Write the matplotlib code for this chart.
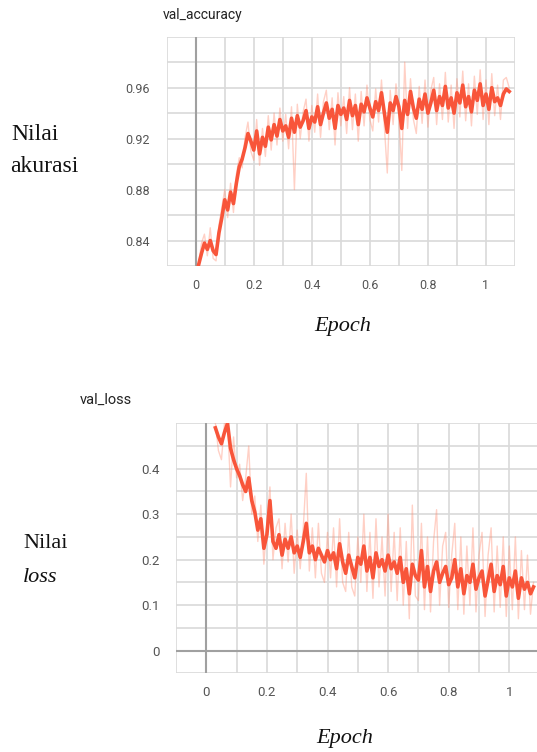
import numpy as np
import matplotlib
matplotlib.use("Agg")
import matplotlib.pyplot as plt
from matplotlib.ticker import MultipleLocator

# ---------------- data ----------------
acc_epoch = np.round(np.arange(1, 109) * 0.01, 2)
acc_smooth = [
    0.821, 0.830, 0.838, 0.833, 0.840, 0.832, 0.829, 0.846, 0.858, 0.872,
    0.864, 0.878, 0.869, 0.885, 0.898, 0.904, 0.913, 0.924, 0.918, 0.911,
    0.926, 0.908, 0.921, 0.914, 0.929, 0.919, 0.931, 0.922, 0.935, 0.926,
    0.930, 0.921, 0.936, 0.925, 0.938, 0.929, 0.934, 0.942, 0.928, 0.937,
    0.933, 0.945, 0.931, 0.940, 0.948, 0.936, 0.943, 0.928, 0.946, 0.939,
    0.944, 0.935, 0.950, 0.938, 0.946, 0.931, 0.947, 0.941, 0.952, 0.944,
    0.937, 0.949, 0.942, 0.956, 0.940, 0.925, 0.948, 0.942, 0.953, 0.945,
    0.928, 0.950, 0.939, 0.957, 0.944, 0.936, 0.951, 0.943, 0.955, 0.940,
    0.948, 0.958, 0.942, 0.953, 0.946, 0.961, 0.944, 0.952, 0.940, 0.956,
    0.948, 0.962, 0.945, 0.953, 0.941, 0.958, 0.950, 0.963, 0.946, 0.955,
    0.943, 0.960, 0.949, 0.952, 0.946, 0.955, 0.959, 0.957,
]
acc_raw = [
    0.822, 0.838, 0.845, 0.828, 0.850, 0.826, 0.824, 0.852, 0.866, 0.880,
    0.858, 0.885, 0.862, 0.892, 0.905, 0.897, 0.921, 0.933, 0.910, 0.903,
    0.935, 0.899, 0.928, 0.906, 0.938, 0.911, 0.940, 0.915, 0.944, 0.918,
    0.939, 0.912, 0.945, 0.880, 0.947, 0.920, 0.941, 0.951, 0.918, 0.946,
    0.925, 0.955, 0.921, 0.949, 0.958, 0.927, 0.952, 0.915, 0.956, 0.930,
    0.953, 0.924, 0.960, 0.927, 0.955, 0.918, 0.957, 0.930, 0.962, 0.935,
    0.926, 0.959, 0.933, 0.966, 0.929, 0.893, 0.958, 0.931, 0.963, 0.936,
    0.895, 0.980, 0.928, 0.967, 0.935, 0.924, 0.961, 0.932, 0.966, 0.929,
    0.958, 0.968, 0.931, 0.963, 0.935, 0.972, 0.933, 0.962, 0.928, 0.967,
    0.937, 0.973, 0.934, 0.963, 0.930, 0.969, 0.939, 0.974, 0.935, 0.966,
    0.931, 0.971, 0.938, 0.962, 0.935, 0.966, 0.968, 0.960,
]

loss_epoch = np.round(np.arange(3, 109) * 0.01, 2)
loss_smooth = [
    0.490, 0.470, 0.455, 0.480, 0.500, 0.445, 0.420, 0.400,
    0.385, 0.365, 0.350, 0.380, 0.330, 0.305, 0.265, 0.290, 0.225, 0.255,
    0.330, 0.240, 0.225, 0.255, 0.210, 0.245, 0.225, 0.250, 0.215, 0.230,
    0.205, 0.240, 0.280, 0.215, 0.230, 0.200, 0.225, 0.210, 0.195, 0.220,
    0.200, 0.215, 0.180, 0.235, 0.195, 0.170, 0.210, 0.185, 0.160, 0.205,
    0.190, 0.230, 0.175, 0.205, 0.160, 0.215, 0.185, 0.200, 0.175, 0.210,
    0.180, 0.195, 0.170, 0.205, 0.150, 0.180, 0.125, 0.190, 0.165, 0.155,
    0.220, 0.140, 0.185, 0.130, 0.175, 0.195, 0.150, 0.170, 0.185, 0.145,
    0.160, 0.200, 0.140, 0.180, 0.125, 0.165, 0.150, 0.190, 0.135, 0.160,
    0.175, 0.120, 0.155, 0.190, 0.130, 0.165, 0.145, 0.185, 0.120, 0.160,
    0.140, 0.175, 0.115, 0.160, 0.135, 0.150, 0.125, 0.140,
]
loss_raw = [
    0.500, 0.440, 0.420, 0.500, 0.505, 0.360, 0.470, 0.380,
    0.410, 0.330, 0.380, 0.450, 0.300, 0.340, 0.240, 0.320, 0.190, 0.280,
    0.360, 0.200, 0.270, 0.290, 0.180, 0.280, 0.195, 0.300, 0.170, 0.265,
    0.180, 0.270, 0.390, 0.175, 0.270, 0.160, 0.280, 0.170, 0.150, 0.260,
    0.160, 0.270, 0.140, 0.290, 0.150, 0.130, 0.260, 0.140, 0.120, 0.250,
    0.150, 0.300, 0.130, 0.260, 0.115, 0.290, 0.140, 0.250, 0.120, 0.300,
    0.130, 0.260, 0.110, 0.270, 0.100, 0.240, 0.070, 0.320, 0.120, 0.110,
    0.280, 0.090, 0.250, 0.085, 0.240, 0.310, 0.100, 0.230, 0.260, 0.095,
    0.210, 0.280, 0.090, 0.250, 0.080, 0.230, 0.100, 0.270, 0.085, 0.210,
    0.260, 0.075, 0.210, 0.270, 0.085, 0.230, 0.095, 0.250, 0.075, 0.230,
    0.090, 0.250, 0.070, 0.220, 0.090, 0.210, 0.080, 0.150,
]

x_ticks = [0, 0.2, 0.4, 0.6, 0.8, 1]
x_tick_labels = ["0", "0.2", "0.4", "0.6", "0.8", "1"]
acc_yticks = [0.84, 0.88, 0.92, 0.96]
acc_ytick_labels = ["0.84", "0.88", "0.92", "0.96"]
loss_yticks = [0, 0.1, 0.2, 0.3, 0.4]
loss_ytick_labels = ["0", "0.1", "0.2", "0.3", "0.4"]

# ---------------- style ----------------
LINE = "#f8553a"
RAW = "#ff8a70"
GRID = "#d9d9d9"
ZERO = "#a0a0a0"
TICKC = "#555555"
W, H = 537, 752

fig = plt.figure(figsize=(W / 100, H / 100), dpi=100)


def px_axes(left, top, right, bottom):
    return fig.add_axes([left / W, 1 - bottom / H, (right - left) / W, (bottom - top) / H])


def style(ax, xlim, ylim, xminor, yminor, xt, xtl, yt, ytl, fs):
    ax.set_xlim(*xlim)
    ax.set_ylim(*ylim)
    for s in ax.spines.values():
        s.set_visible(False)
    ax.xaxis.set_minor_locator(MultipleLocator(xminor))
    ax.yaxis.set_minor_locator(MultipleLocator(yminor))
    ax.set_xticks(xt)
    ax.set_xticklabels(xtl)
    ax.set_yticks(yt)
    ax.set_yticklabels(ytl)
    ax.grid(True, which="both", color=GRID, lw=1.2, zorder=0)
    ax.tick_params(which="both", length=0, labelsize=fs, colors=TICKC)
    ax.tick_params(axis="y", pad=12)
    ax.tick_params(axis="x", pad=9)
    for lab in ax.get_xticklabels() + ax.get_yticklabels():
        lab.set_family("Roboto")
    ax.set_axisbelow(True)


# ---- top: val_accuracy ----
ax1 = px_axes(166.7, 36.7, 515, 266)
style(ax1, (-0.1, 1.1), (0.82, 1.0), 0.1, 0.02,
      x_ticks, x_tick_labels, acc_yticks, acc_ytick_labels, 9)
ax1.axvline(0, color=ZERO, lw=1.5, zorder=1)
ax1.plot(acc_epoch, acc_raw, color=RAW, lw=1.0, alpha=0.4, zorder=2)
ax1.plot(acc_epoch, acc_smooth, color=LINE, lw=2.6, zorder=3)

# ---- bottom: val_loss ----
ax2 = px_axes(176, 423.3, 539.6, 673.3)
style(ax2, (-0.1, 1.1), (-0.05, 0.5), 0.1, 0.05,
      x_ticks, x_tick_labels, loss_yticks, loss_ytick_labels, 9.5)
ax2.axvline(0, color=ZERO, lw=1.5, zorder=1)
ax2.axhline(0, color=ZERO, lw=1.5, zorder=1)
ax2.plot(loss_epoch, loss_raw, color=RAW, lw=1.0, alpha=0.4, zorder=2)
ax2.plot(loss_epoch, loss_smooth, color=LINE, lw=2.6, zorder=3)

# ---- texts ----
def ftext(x, y, s, **kw):
    fig.text(x / W, 1 - y / H, s, **kw)

ftext(163, 15, "val_accuracy", family="Roboto", fontsize=10, color="#222222",
      va="center", ha="left")
ftext(80, 400, "val_loss", family="Roboto", fontsize=10.5, color="#222222",
      va="center", ha="left")

serif = "Liberation Serif"
ftext(11, 135, "Nilai", family=serif, fontsize=17, va="center", ha="left", color="#111111")
ftext(10, 166, "akurasi", family=serif, fontsize=17, va="center", ha="left", color="#111111")
ftext(23, 544, "Nilai", family=serif, fontsize=16, va="center", ha="left", color="#111111")
ftext(23, 577, "loss", family=serif, fontsize=16, style="italic", va="center", ha="left",
      color="#111111")
ftext(343, 326, "Epoch", family=serif, fontsize=16, style="italic", va="center", ha="center",
      color="#111111")
ftext(345, 738, "Epoch", family=serif, fontsize=16, style="italic", va="center", ha="center",
      color="#111111")

fig.savefig("out.png", dpi=100)
